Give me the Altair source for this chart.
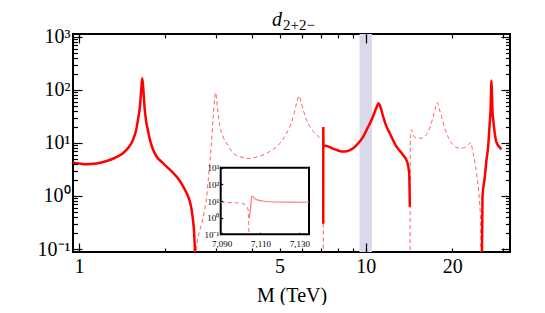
import altair as alt
import pandas as pd

# ---------------- data ----------------
# main curve, solid pieces
sa_x = [0.953, 1.0, 1.064, 1.15, 1.249, 1.33, 1.423, 1.49, 1.542, 1.58, 1.605, 1.63, 1.648, 1.662,
        1.676, 1.692, 1.712, 1.74, 1.768, 1.81, 1.866, 1.94, 2.021, 2.1, 2.19, 2.25, 2.309,
        2.36, 2.403, 2.44, 2.47, 2.50, 2.516, 2.53, 2.536, 2.545]
sa_y = [4.25, 4.1, 3.96, 4.1, 4.57, 5.2, 6.4, 8.3, 11.4, 17, 27.2, 48, 100, 166,
        100, 48, 27, 17, 11.4, 7.6, 5.5, 4.4, 3.57, 2.95, 2.31, 1.9, 1.50,
        1.2, 0.97, 0.75, 0.545, 0.33, 0.228, 0.13, 0.095, 0.001]

sc_x = [7.1041, 7.1055, 7.108, 7.118, 7.3, 7.6, 7.906, 8.25, 8.6, 9.03, 9.4, 9.79, 10.06,
        10.47, 10.9, 11.07, 11.25, 11.49, 11.8, 12.12, 12.79, 13.49, 13.93, 14.16, 14.23]
sc_y = [0.3, 20, 12.6, 9.0, 8.8, 8.0, 7.4, 6.9, 7.0, 7.9, 9.8, 13.1, 17.6,
        27.2, 47, 56, 47, 31.3, 20.3, 15.2, 8.5, 5.9, 4.4, 2.7, 0.63]

se_x = [25.2, 25.5, 25.98, 26.3, 26.68, 27.0, 27.2, 27.42, 27.6, 27.78, 28.1, 28.38, 28.7, 29.14, 29.7]
se_y = [0.001, 0.97, 2.31, 4.5, 8.5, 22, 40, 150, 45, 28, 16, 11.4, 9.6, 8.5, 7.6]

# main curve, dashed pieces
db_x = [2.56, 2.57, 2.64, 2.712, 2.786, 2.822, 2.90, 2.938, 2.995, 3.038, 3.099, 3.17, 3.27,
        3.45, 3.65, 3.89, 4.2, 4.51, 5.02, 5.25, 5.43, 5.6, 5.735, 5.856, 5.95, 6.047, 6.2,
        6.38, 6.73, 7.0, 7.10, 7.1037, 7.1041]
db_y = [0.001, 0.11, 0.228, 0.41, 0.97, 2.0, 11.4, 31.3, 89, 45.7, 20.3, 13.5, 9.9,
        6.4, 5.5, 5.1, 5.5, 6.4, 9.9, 14, 20.3, 33, 56, 77, 58, 42, 28,
        20.3, 14.2, 11.5, 10.5, 2.9, 0.001]

dd_x = [14.24, 14.3, 14.43, 14.7, 15.02, 15.63, 16.49, 17.16, 17.45, 17.72, 18.0, 18.36, 19.11,
        20.15, 21.26, 22.43, 23.17, 23.65, 24.31, 24.82, 25.1, 25.16, 25.2]
dd_y = [0.001, 15, 17.6, 13.5, 12.3, 12.3, 16.3, 31.3, 45, 57.6, 45, 31.3, 15.2,
        9.2, 7.9, 8.5, 10.1, 6.4, 2.7, 0.97, 0.35, 0.095, 0.001]

# inset curve
id_x = [7.0895, 7.095, 7.1007, 7.1027, 7.1037, 7.1041]
id_y = [8.4, 8.0, 7.3, 5.2, 2.9, 0.1]
is_x = [7.1042, 7.1049, 7.1055, 7.1075, 7.1109, 7.1178, 7.125, 7.135]
is_y = [0.9, 4.0, 20, 12.6, 10, 8.7, 8.5, 8.4]

band_lo = [9.5]
band_hi = [10.5]

x_major = [1, 10]
x_minor = [1, 2, 3, 4, 5, 6, 7, 8, 9, 10, 20, 30]
y_major = [0.1, 1, 10, 100, 1000]
y_minor = [0.2, 0.3, 0.4, 0.5, 0.6, 0.7, 0.8, 0.9, 2, 3, 4, 5, 6, 7, 8, 9,
           20, 30, 40, 50, 60, 70, 80, 90, 200, 300, 400, 500, 600, 700, 800, 900]
inset_x_ticks = [7.09, 7.11, 7.13]
inset_y_ticks = [0.1, 1, 10, 100, 1000]

# ---------------- layout ----------------
W, H = 437, 218
XDOM = [0.953, 31.8]
YDOM = [0.088, 1130]
IX_DOM = [7.0895, 7.135]
IX_RANGE = [147.7, 236]
IY_DOM = [0.1, 1000]
IY_RANGE = [200.3, 133.7]
FONT = "Liberation Serif"


def seg_frame(pairs):
    rows = []
    for k, (xs_, ys_) in enumerate(pairs):
        for a, b in zip(xs_, ys_):
            rows.append({"x": a, "y": b, "seg": k})
    return pd.DataFrame(rows)


df_solid = seg_frame([(sa_x, sa_y), (sc_x, sc_y), (se_x, se_y)])
df_dash = seg_frame([(db_x, db_y), (dd_x, dd_y)])
df_idash = seg_frame([(id_x, id_y)])
df_isolid = seg_frame([(is_x, is_y)])
df_band = pd.DataFrame({"lo": band_lo, "hi": band_hi})
df_iframe = pd.DataFrame({"x0": [IX_DOM[0]], "x1": [IX_DOM[1]], "y0": [IY_DOM[0]], "y1": [IY_DOM[1]]})

xs = alt.Scale(type="log", domain=XDOM)
ys = alt.Scale(type="log", domain=YDOM)
ixs = alt.Scale(type="linear", domain=IX_DOM, range=IX_RANGE, nice=False, zero=False)
iys = alt.Scale(type="log", domain=IY_DOM, range=IY_RANGE, nice=False)

sup_expr = ("datum.value < 0.5 ? '10\u207b\u00b9' : datum.value < 5 ? '10\u2070' : "
            "datum.value < 50 ? '10\u00b9' : datum.value < 500 ? '10\u00b2' : '10\u00b3'")
xlab_expr = ("(datum.value == 1 || datum.value == 5 || datum.value == 10 || datum.value == 20)"
             " ? format(datum.value, 'd') : ''")
ixlab_expr = "datum.value < 7.1 ? '7,090' : datum.value < 7.12 ? '7,110' : '7,130'"

common = dict(domain=False, grid=False, tickColor="black", tickWidth=1.2, zindex=1,
              labelFont=FONT, labelColor="black", labelOverlap=False, labelFlush=False,
              labelBound=False)


def tick_axis(orient, values, size, labels=False, **kw):
    return alt.Axis(orient=orient, values=values, offset=-size, tickSize=size,
                    labels=labels, title=None, **{**common, **kw})


ax_bottom_short = alt.Axis(orient="bottom", values=x_minor, offset=-4, tickSize=4,
                           labelExpr=xlab_expr, labelFontSize=20, labelPadding=4,
                           title="M (TeV)", titleFont=FONT, titleFontSize=20,
                           titleFontWeight="normal", titleColor="black", titlePadding=9,
                           **common)
ax_left_long = alt.Axis(orient="left", values=y_major, offset=-9, tickSize=9,
                        labelExpr=sup_expr, labelFontSize=20, labelPadding=3, title=None,
                        **common)

band = alt.Chart(df_band).mark_rect(color="#d9d9ec").encode(
    x=alt.X("lo:Q", scale=xs, axis=None), x2="hi:Q")

dash_main = alt.Chart(df_dash).mark_line(color="#ff5e5e", strokeWidth=1, strokeDash=[4, 3],
                                         clip=True, interpolate="monotone").encode(
    x=alt.X("x:Q", scale=xs, axis=tick_axis("top", x_minor, 4)),
    y=alt.Y("y:Q", scale=ys, axis=tick_axis("right", y_major, 9)),
    detail="seg:N", order="x:Q")

solid_main = alt.Chart(df_solid).mark_line(color="#ff0000", strokeWidth=2.5, clip=True,
                                           interpolate="monotone").encode(
    x=alt.X("x:Q", scale=xs, axis=ax_bottom_short),
    y=alt.Y("y:Q", scale=ys, axis=ax_left_long),
    detail="seg:N", order="x:Q")

helper1 = alt.Chart(df_solid).mark_point(opacity=0).encode(
    x=alt.X("x:Q", scale=xs, axis=tick_axis("bottom", x_major, 9)),
    y=alt.Y("y:Q", scale=ys, axis=tick_axis("left", y_minor, 4.5)))

helper2 = alt.Chart(df_solid).mark_point(opacity=0).encode(
    x=alt.X("x:Q", scale=xs, axis=tick_axis("top", x_major, 9)),
    y=alt.Y("y:Q", scale=ys, axis=tick_axis("right", y_minor, 4.5)))

inset_frame = alt.Chart(df_iframe).mark_rect(fill="white", stroke="black", strokeWidth=2).encode(
    x=alt.X("x0:Q", scale=ixs,
            axis=alt.Axis(orient="bottom", values=inset_x_ticks, offset=-(H - IY_RANGE[0]) - 2,
                          tickSize=2, labelExpr=ixlab_expr, labelFontSize=9, labelPadding=5,
                          title=None, **common)),
    x2="x1:Q",
    y=alt.Y("y0:Q", scale=iys,
            axis=alt.Axis(orient="left", values=inset_y_ticks, offset=-IX_RANGE[0] - 2,
                          tickSize=2, labelExpr=sup_expr, labelFontSize=9, labelPadding=2,
                          title=None, **common)),
    y2="y1:Q")

inset_dash = alt.Chart(df_idash).mark_line(color="#ff7a7a", strokeWidth=1.1,
                                           strokeDash=[4, 3]).encode(
    x=alt.X("x:Q", scale=ixs, axis=None), y=alt.Y("y:Q", scale=iys, axis=None), order="x:Q")

inset_solid = alt.Chart(df_isolid).mark_line(color="#ff7a7a", strokeWidth=1.2,
                                             interpolate="monotone").encode(
    x=alt.X("x:Q", scale=ixs, axis=None), y=alt.Y("y:Q", scale=iys, axis=None), order="x:Q")

title_d = alt.Chart(pd.DataFrame({"t": ["d"]})).mark_text(
    font=FONT, fontStyle="italic", fontSize=20, align="right", baseline="alphabetic",
    color="black").encode(x=alt.value(209), y=alt.value(-8), text="t:N")
title_sub = alt.Chart(pd.DataFrame({"t": ["2+2\u2212"]})).mark_text(
    font=FONT, fontSize=15, align="left", baseline="alphabetic",
    color="black").encode(x=alt.value(210), y=alt.value(-4), text="t:N")

chart = alt.layer(
    band, dash_main, solid_main, helper1, helper2,
    inset_frame, inset_dash, inset_solid, title_d, title_sub
).resolve_scale(x="independent", y="independent").properties(
    width=W, height=H,
    autosize=alt.AutoSizeParams(type="none"),
    padding={"left": 65, "top": 26, "right": 27, "bottom": 53},
).configure_view(stroke="black", strokeWidth=2)

chart.save("out.html", embed_options={"renderer": "svg", "actions": False})
